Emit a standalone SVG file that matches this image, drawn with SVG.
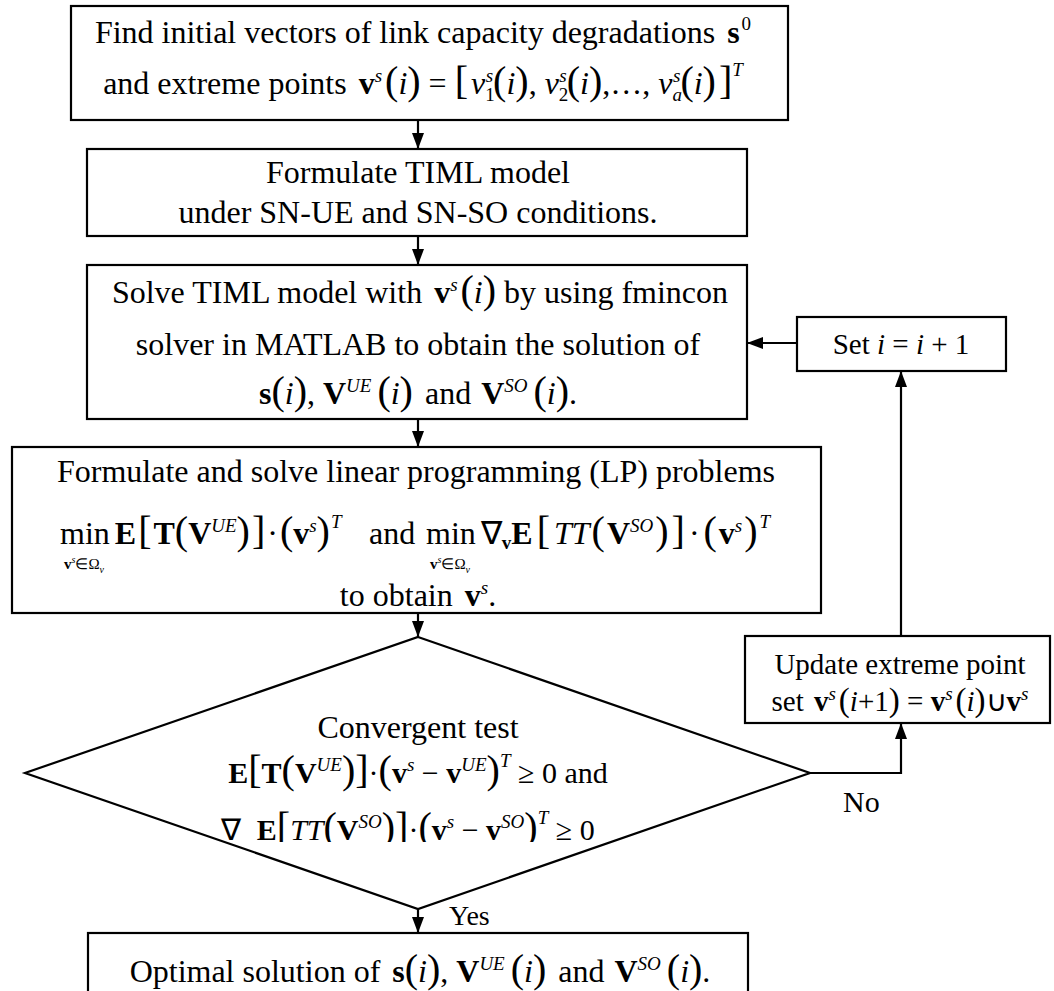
<svg xmlns="http://www.w3.org/2000/svg" width="1054" height="991" viewBox="0 0 1054 991">
<style>
.box{fill:#fff;stroke:#000;stroke-width:2.2}
.ln{fill:none;stroke:#000;stroke-width:2.2}
text{font-family:"Liberation Serif","Times New Roman",serif;font-size:32px;fill:#000}
.m{text-anchor:middle}
.b{font-weight:bold}
.i{font-style:italic}
.sm{font-size:19px}
.p{font-size:40px}
.p2{font-size:33px}
.s29{font-size:29px}
.s30{font-size:30px}
.s28{font-size:28px}
.sub{font-size:15px}
.sub2{font-size:10px}
</style>
<defs>
<marker id="ah" markerUnits="userSpaceOnUse" markerWidth="16" markerHeight="12" refX="16" refY="6" orient="auto"><path d="M0,0 L16,6 L0,12 z" fill="#000"/></marker>
<clipPath id="clip3"><rect x="0" y="800" width="1054" height="42"/></clipPath>
</defs>
<rect width="1054" height="991" fill="#fff"/>

<g id="n1">
<rect class="box" x="71" y="6" width="717" height="114"/>
<text class="m" x="423" y="43">Find initial vectors of link capacity degradations <tspan class="b" dx="4">s</tspan><tspan class="sm" dy="-13" dx="2">0</tspan></text>
<text class="m" x="423" y="94">and extreme points <tspan class="b" dx="4">v</tspan><tspan class="sm i" dy="-12">s</tspan><tspan class="p" dy="12" dx="3">(</tspan><tspan class="i">i</tspan><tspan class="p">)</tspan> = <tspan class="p">[</tspan><tspan dx="3" class="i">v</tspan><tspan class="sm" dy="7">1</tspan><tspan class="sm i" dx="-9" dy="-19">s</tspan><tspan class="p" dy="12">(</tspan><tspan class="i">i</tspan><tspan class="p">)</tspan>, <tspan class="i">v</tspan><tspan class="sm" dy="7">2</tspan><tspan class="sm i" dx="-9" dy="-19">s</tspan><tspan class="p" dy="12">(</tspan><tspan class="i">i</tspan><tspan class="p">)</tspan>,…, <tspan class="i">v</tspan><tspan class="sm i" dy="7">a</tspan><tspan class="sm i" dx="-9" dy="-19">s</tspan><tspan class="p" dy="12">(</tspan><tspan class="i">i</tspan><tspan class="p">)</tspan><tspan class="p" dx="3">]</tspan><tspan class="sm i" dy="-18">T</tspan></text>
</g>

<g id="n2">
<rect class="box" x="87" y="149" width="660" height="87"/>
<text class="m" x="418" y="183">Formulate TIML model</text>
<text class="m" x="418" y="223">under SN-UE and SN-SO conditions.</text>
</g>

<g id="n3">
<rect class="box" x="87" y="265" width="660" height="154"/>
<text class="m" x="420" y="303">Solve TIML model with <tspan class="b" dx="4">v</tspan><tspan class="sm i" dy="-12">s</tspan><tspan class="p" dy="12" dx="3">(</tspan><tspan class="i">i</tspan><tspan class="p">)</tspan> by using fmincon</text>
<text class="m" x="418" y="355">solver in MATLAB to obtain the solution of</text>
<text class="m" x="418" y="404"><tspan class="b">s</tspan><tspan class="p">(</tspan><tspan class="i">i</tspan><tspan class="p">)</tspan>,<tspan class="b" dx="8">V</tspan><tspan class="sm i" dy="-12">UE</tspan><tspan class="p" dy="12" dx="6">(</tspan><tspan class="i">i</tspan><tspan class="p">)</tspan><tspan dx="4"> and </tspan><tspan class="b" dx="2">V</tspan><tspan class="sm i" dy="-12">SO</tspan><tspan class="p" dy="12" dx="6">(</tspan><tspan class="i">i</tspan><tspan class="p">)</tspan>.</text>
</g>

<g id="n_set">
<rect class="box" x="797" y="317" width="209" height="54"/>
<text class="m s29" x="901" y="354">Set <tspan class="i">i</tspan> = <tspan class="i">i</tspan> + 1</text>
</g>

<g id="n4">
<rect class="box" x="12" y="447" width="809" height="166"/>
<text class="m" x="416" y="482">Formulate and solve linear programming (LP) problems</text>
<text x="60" y="544">min<tspan dx="5" class="b">E</tspan><tspan class="p" dx="2">[</tspan><tspan class="b" dx="2">T</tspan><tspan class="p">(</tspan><tspan class="b">V</tspan><tspan class="sm i" dy="-12">UE</tspan><tspan class="p" dy="12">)</tspan><tspan class="p" dx="2">]</tspan><tspan dx="2">·</tspan><tspan class="p" dx="2">(</tspan><tspan class="b">v</tspan><tspan class="sm i" dy="-12">s</tspan><tspan class="p" dy="12">)</tspan><tspan class="sm i" dy="-16" dx="1">T</tspan></text>
<text class="sub m" x="84" y="569"><tspan class="b">v</tspan><tspan class="sub2 i" dy="-6">s</tspan><tspan dy="6">∈Ω</tspan><tspan class="sub2 i" dy="4">v</tspan></text>
<text x="369" y="544">and</text>
<text x="426" y="544">min<tspan dx="5">∇</tspan><tspan class="b sm" dy="5">v</tspan><tspan class="b" dy="-5">E</tspan><tspan class="p" dx="4">[</tspan><tspan class="i" dx="4">TT</tspan><tspan class="p" dx="2">(</tspan><tspan class="b" dx="2">V</tspan><tspan class="sm i" dy="-12">SO</tspan><tspan class="p" dy="12" dx="2">)</tspan><tspan class="p" dx="3">]</tspan><tspan dx="4">·</tspan><tspan class="p" dx="4">(</tspan><tspan class="b" dx="2">v</tspan><tspan class="sm i" dy="-12">s</tspan><tspan class="p" dy="12" dx="2">)</tspan><tspan class="sm i" dy="-16" dx="2">T</tspan></text>
<text class="sub m" x="450" y="569"><tspan class="b">v</tspan><tspan class="sub2 i" dy="-6">s</tspan><tspan dy="6">∈Ω</tspan><tspan class="sub2 i" dy="4">v</tspan></text>
<text class="m" x="418" y="606">to obtain <tspan class="b" dx="4">v</tspan><tspan class="sm i" dy="-12">s</tspan><tspan dy="12">.</tspan></text>
</g>

<g id="n_test">
<polygon class="box" points="418,637 810,773 418,909 25,773"/>
<text class="m" x="418" y="738">Convergent test</text>
<text class="m s30" x="418" y="783"><tspan class="b">E</tspan><tspan class="p">[</tspan><tspan class="b">T</tspan><tspan class="p">(</tspan><tspan class="b">V</tspan><tspan class="sm i" dy="-12">UE</tspan><tspan class="p" dy="12">)</tspan><tspan class="p">]</tspan>·<tspan class="p">(</tspan><tspan class="b">v</tspan><tspan class="sm i" dy="-12">s</tspan><tspan dy="12"> − </tspan><tspan class="b">v</tspan><tspan class="sm i" dy="-12">UE</tspan><tspan class="p" dy="12">)</tspan><tspan class="sm i" dy="-16">T</tspan><tspan dy="16"> ≥ 0 and</tspan></text>
<text class="m s30" x="408" y="840" clip-path="url(#clip3)">∇ <tspan class="b" dx="8">E</tspan><tspan class="p">[</tspan><tspan class="i">TT</tspan><tspan class="p">(</tspan><tspan class="b">V</tspan><tspan class="sm i" dy="-12">SO</tspan><tspan class="p" dy="12">)</tspan><tspan class="p">]</tspan>·<tspan class="p">(</tspan><tspan class="b">v</tspan><tspan class="sm i" dy="-12">s</tspan><tspan dy="12"> − </tspan><tspan class="b">v</tspan><tspan class="sm i" dy="-12">SO</tspan><tspan class="p" dy="12">)</tspan><tspan class="sm i" dy="-16">T</tspan><tspan dy="16"> ≥ 0</tspan></text>
</g>

<g id="n_update">
<rect class="box" x="745" y="636" width="305" height="87"/>
<text class="m s29" x="900" y="674">Update extreme point</text>
<text class="m s29" x="900" y="711">set <tspan class="b" dx="3">v</tspan><tspan class="sm i" dy="-11">s</tspan><tspan class="p2" dy="11" dx="3">(</tspan><tspan class="i">i</tspan>+1<tspan class="p2">)</tspan> = <tspan class="b">v</tspan><tspan class="sm i" dy="-11">s</tspan><tspan class="p2" dy="11" dx="3">(</tspan><tspan class="i">i</tspan><tspan class="p2">)</tspan>∪<tspan class="b">v</tspan><tspan class="sm i" dy="-11">s</tspan></text>
</g>

<g id="n_end">
<rect class="box" x="88" y="933" width="660" height="70"/>
<text class="m" x="420" y="982">Optimal solution of <tspan class="b" dx="4">s</tspan><tspan class="p">(</tspan><tspan class="i">i</tspan><tspan class="p">)</tspan>,<tspan class="b" dx="8">V</tspan><tspan class="sm i" dy="-12">UE</tspan><tspan class="p" dy="12" dx="6">(</tspan><tspan class="i">i</tspan><tspan class="p">)</tspan><tspan dx="4"> and </tspan><tspan class="b" dx="2">V</tspan><tspan class="sm i" dy="-12">SO</tspan><tspan class="p" dy="12" dx="6">(</tspan><tspan class="i">i</tspan><tspan class="p">)</tspan>.</text>
</g>

<g id="connectors">
<line class="ln" x1="418" y1="120" x2="418" y2="149" marker-end="url(#ah)"/>
<line class="ln" x1="418" y1="236" x2="418" y2="265" marker-end="url(#ah)"/>
<line class="ln" x1="418" y1="419" x2="418" y2="447" marker-end="url(#ah)"/>
<line class="ln" x1="418" y1="613" x2="418" y2="637" marker-end="url(#ah)"/>
<line class="ln" x1="418" y1="909" x2="418" y2="933" marker-end="url(#ah)"/>
<polyline class="ln" points="810,773 901,773 901,723" marker-end="url(#ah)"/>
<line class="ln" x1="901" y1="636" x2="901" y2="371" marker-end="url(#ah)"/>
<line class="ln" x1="797" y1="343" x2="747" y2="343" marker-end="url(#ah)"/>
<text class="s30" x="843" y="812">No</text>
<text class="s28" x="449" y="925">Yes</text>
</g>
</svg>
